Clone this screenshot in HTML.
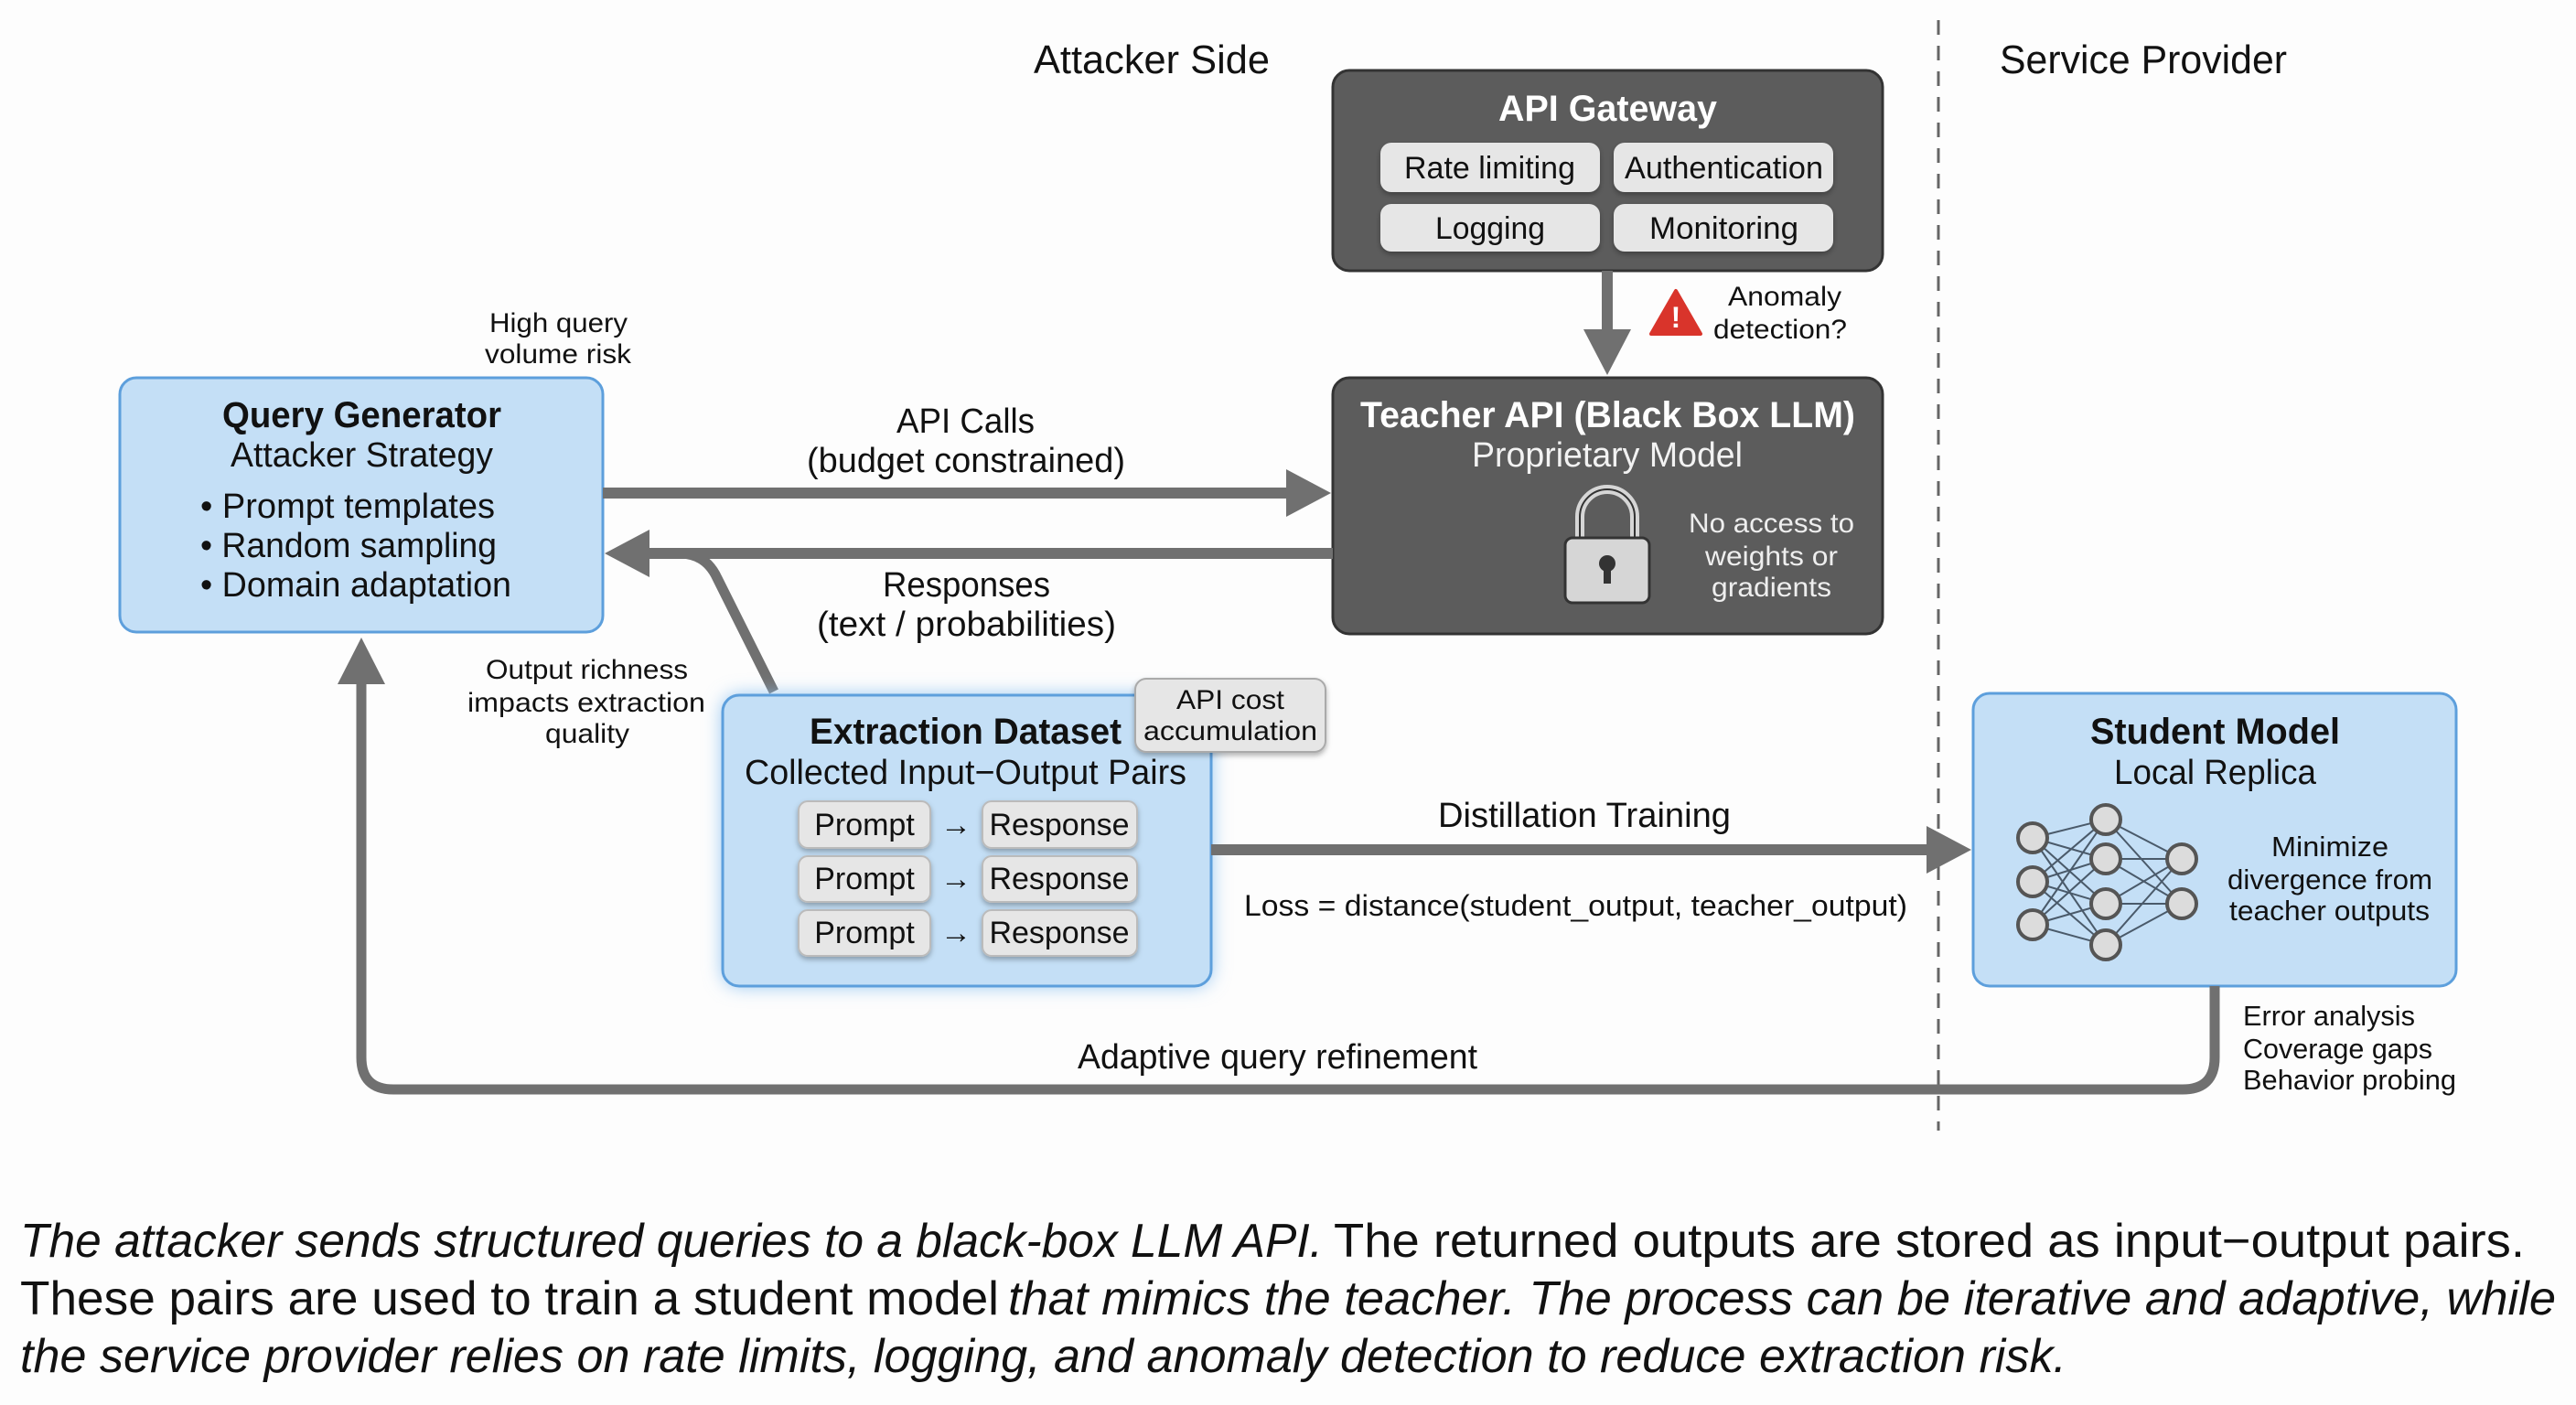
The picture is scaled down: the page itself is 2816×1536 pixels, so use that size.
<!DOCTYPE html>
<html><head><meta charset="utf-8"><style>
html,body{margin:0;padding:0;background:#fdfdfd;}
svg{display:block;}
text{font-family:"Liberation Sans",sans-serif;}
</style></head><body>
<svg width="2816" height="1536" viewBox="0 0 2816 1536" xmlns="http://www.w3.org/2000/svg">
<defs>
<filter id="glow" x="-20%" y="-20%" width="140%" height="140%"><feGaussianBlur stdDeviation="10"/></filter>
<filter id="sh" x="-10%" y="-10%" width="120%" height="130%"><feDropShadow dx="0" dy="3" stdDeviation="3" flood-color="#000" flood-opacity="0.3"/></filter>
</defs>
<rect width="2816" height="1536" fill="#fdfdfd"/>

<!-- headers -->
<text x="1130" y="80" font-size="44" fill="#111" textLength="258" lengthAdjust="spacingAndGlyphs">Attacker Side</text>
<text x="2186" y="80" font-size="44" fill="#111" textLength="314" lengthAdjust="spacingAndGlyphs">Service Provider</text>
<line x1="2119" y1="22" x2="2119" y2="1236" stroke="#666" stroke-width="3" stroke-dasharray="16,12"/>

<!-- API Gateway -->
<rect x="1457" y="77" width="601" height="219" rx="18" fill="#5c5c5c" stroke="#333" stroke-width="3"/>
<text x="1638" y="132" font-size="40" font-weight="bold" fill="#fff" textLength="239" lengthAdjust="spacingAndGlyphs">API Gateway</text>
<g filter="url(#sh)">
<rect x="1509" y="156" width="240" height="54" rx="12" fill="#e6e6e6"/>
<rect x="1764" y="156" width="240" height="54" rx="12" fill="#e6e6e6"/>
<rect x="1509" y="223" width="240" height="52" rx="12" fill="#e6e6e6"/>
<rect x="1764" y="223" width="240" height="52" rx="12" fill="#e6e6e6"/>
</g>
<text x="1535" y="195" font-size="34" fill="#111" textLength="187" lengthAdjust="spacingAndGlyphs">Rate limiting</text>
<text x="1776" y="195" font-size="34" fill="#111" textLength="217" lengthAdjust="spacingAndGlyphs">Authentication</text>
<text x="1569" y="261" font-size="34" fill="#111" textLength="120" lengthAdjust="spacingAndGlyphs">Logging</text>
<text x="1803" y="261" font-size="34" fill="#111" textLength="163" lengthAdjust="spacingAndGlyphs">Monitoring</text>

<!-- gateway arrow -->
<line x1="1757" y1="296" x2="1757" y2="362" stroke="#707070" stroke-width="12"/>
<polygon points="1731,360 1783,360 1757,410" fill="#707070"/>
<polygon points="1832,318 1859,365 1805,365" fill="#d9342b" stroke="#d9342b" stroke-width="4" stroke-linejoin="round"/>
<text x="1832" y="358" font-size="32" font-weight="bold" fill="#fff" text-anchor="middle">!</text>
<text x="1889" y="334" font-size="30" fill="#111" textLength="124" lengthAdjust="spacingAndGlyphs">Anomaly</text>
<text x="1873" y="370" font-size="30" fill="#111" textLength="146" lengthAdjust="spacingAndGlyphs">detection?</text>

<!-- Teacher -->
<rect x="1457" y="413" width="601" height="280" rx="18" fill="#5c5c5c" stroke="#333" stroke-width="3"/>
<text x="1487" y="467" font-size="40" font-weight="bold" fill="#fff" textLength="541" lengthAdjust="spacingAndGlyphs">Teacher API (Black Box LLM)</text>
<text x="1609" y="510" font-size="38" fill="#f2f2f2" textLength="296" lengthAdjust="spacingAndGlyphs">Proprietary Model</text>
<path d="M1727,590 L1727,565 A30,30 0 0 1 1787,565 L1787,590" fill="none" stroke="#d6d6d6" stroke-width="10"/>
<path d="M1727,590 L1727,565 A30,30 0 0 1 1787,565 L1787,590" fill="none" stroke="#333" stroke-width="2"/>
<rect x="1711" y="588" width="92" height="71" rx="8" fill="#d6d6d6" stroke="#333" stroke-width="3"/>
<circle cx="1757" cy="616" r="9" fill="#333"/>
<rect x="1753" y="616" width="8" height="22" fill="#333"/>
<text x="1846" y="582" font-size="30" fill="#eee" textLength="181" lengthAdjust="spacingAndGlyphs">No access to</text>
<text x="1864" y="618" font-size="30" fill="#eee" textLength="145" lengthAdjust="spacingAndGlyphs">weights or</text>
<text x="1871" y="652" font-size="30" fill="#eee" textLength="131" lengthAdjust="spacingAndGlyphs">gradients</text>

<!-- Query Generator -->
<rect x="131" y="413" width="528" height="278" rx="18" fill="#c4dff6" stroke="#5d9fdc" stroke-width="3"/>
<text x="243" y="467" font-size="40" font-weight="bold" fill="#111" textLength="305" lengthAdjust="spacingAndGlyphs">Query Generator</text>
<text x="252" y="510" font-size="38" fill="#111" textLength="287" lengthAdjust="spacingAndGlyphs">Attacker Strategy</text>
<text x="219" y="566" font-size="38" fill="#111" textLength="322" lengthAdjust="spacingAndGlyphs">• Prompt templates</text>
<text x="219" y="609" font-size="38" fill="#111" textLength="324" lengthAdjust="spacingAndGlyphs">• Random sampling</text>
<text x="219" y="652" font-size="38" fill="#111" textLength="340" lengthAdjust="spacingAndGlyphs">• Domain adaptation</text>
<text x="535" y="363" font-size="30" fill="#111" textLength="151" lengthAdjust="spacingAndGlyphs">High query</text>
<text x="530" y="397" font-size="30" fill="#111" textLength="160" lengthAdjust="spacingAndGlyphs">volume risk</text>

<!-- API calls -->
<line x1="659" y1="539" x2="1410" y2="539" stroke="#707070" stroke-width="12"/>
<polygon points="1406,513 1455,539 1406,565" fill="#707070"/>
<text x="980" y="473" font-size="38" fill="#111" textLength="151" lengthAdjust="spacingAndGlyphs">API Calls</text>
<text x="882" y="516" font-size="38" fill="#111" textLength="348" lengthAdjust="spacingAndGlyphs">(budget constrained)</text>

<!-- Responses -->
<line x1="1457" y1="605" x2="705" y2="605" stroke="#707070" stroke-width="12"/>
<polygon points="710,579 661,605 710,631" fill="#707070"/>
<path d="M846,756 L784,632 Q772,606 745,605" fill="none" stroke="#707070" stroke-width="11"/>
<text x="965" y="652" font-size="38" fill="#111" textLength="183" lengthAdjust="spacingAndGlyphs">Responses</text>
<text x="893" y="695" font-size="38" fill="#111" textLength="327" lengthAdjust="spacingAndGlyphs">(text / probabilities)</text>
<text x="531" y="742" font-size="30" fill="#111" textLength="221" lengthAdjust="spacingAndGlyphs">Output richness</text>
<text x="511" y="778" font-size="30" fill="#111" textLength="260" lengthAdjust="spacingAndGlyphs">impacts extraction</text>
<text x="596" y="812" font-size="30" fill="#111" textLength="92" lengthAdjust="spacingAndGlyphs">quality</text>

<!-- Extraction Dataset -->
<rect x="790" y="760" width="534" height="318" rx="18" fill="#8fc2f0" filter="url(#glow)"/>
<rect x="790" y="760" width="534" height="318" rx="18" fill="#c4dff6" stroke="#5d9fdc" stroke-width="3"/>
<text x="885" y="813" font-size="40" font-weight="bold" fill="#111" textLength="341" lengthAdjust="spacingAndGlyphs">Extraction Dataset</text>
<text x="814" y="857" font-size="38" fill="#111" textLength="483" lengthAdjust="spacingAndGlyphs">Collected Input−Output Pairs</text>
<g filter="url(#sh)">
<rect x="873" y="876" width="144" height="51" rx="10" fill="#e6e6e6" stroke="#bbb" stroke-width="2"/>
<rect x="1074" y="876" width="169" height="51" rx="10" fill="#e6e6e6" stroke="#bbb" stroke-width="2"/>
<rect x="873" y="936" width="144" height="50" rx="10" fill="#e6e6e6" stroke="#bbb" stroke-width="2"/>
<rect x="1074" y="936" width="169" height="50" rx="10" fill="#e6e6e6" stroke="#bbb" stroke-width="2"/>
<rect x="873" y="995" width="144" height="50" rx="10" fill="#e6e6e6" stroke="#bbb" stroke-width="2"/>
<rect x="1074" y="995" width="169" height="50" rx="10" fill="#e6e6e6" stroke="#bbb" stroke-width="2"/>
</g>
<g font-size="34" fill="#111">
<text x="945" y="913" text-anchor="middle">Prompt</text><text x="1158" y="913" text-anchor="middle">Response</text>
<text x="945" y="972" text-anchor="middle">Prompt</text><text x="1158" y="972" text-anchor="middle">Response</text>
<text x="945" y="1031" text-anchor="middle">Prompt</text><text x="1158" y="1031" text-anchor="middle">Response</text>
<text x="1045" y="913" text-anchor="middle">→</text><text x="1045" y="972" text-anchor="middle">→</text><text x="1045" y="1031" text-anchor="middle">→</text>
</g>
<rect x="1241" y="742" width="208" height="80" rx="12" fill="#e6e6e6" stroke="#aaa" stroke-width="2" filter="url(#sh)"/>
<text x="1286" y="775" font-size="30" fill="#111" textLength="118" lengthAdjust="spacingAndGlyphs">API cost</text>
<text x="1250" y="809" font-size="30" fill="#111" textLength="190" lengthAdjust="spacingAndGlyphs">accumulation</text>

<!-- Distillation -->
<line x1="1324" y1="929" x2="2110" y2="929" stroke="#707070" stroke-width="12"/>
<polygon points="2106,903 2155,929 2106,955" fill="#707070"/>
<text x="1572" y="904" font-size="38" fill="#111" textLength="320" lengthAdjust="spacingAndGlyphs">Distillation Training</text>
<text x="1360" y="1001" font-size="32" fill="#111" textLength="725" lengthAdjust="spacingAndGlyphs">Loss = distance(student_output, teacher_output)</text>

<!-- Student -->
<rect x="2157" y="758" width="528" height="320" rx="18" fill="#c4dff6" stroke="#5d9fdc" stroke-width="3"/>
<text x="2285" y="813" font-size="40" font-weight="bold" fill="#111" textLength="273" lengthAdjust="spacingAndGlyphs">Student Model</text>
<text x="2311" y="857" font-size="38" fill="#111" textLength="221" lengthAdjust="spacingAndGlyphs">Local Replica</text>
<g stroke="#4a5a6a" stroke-width="2">
<line x1="2222" y1="916" x2="2302" y2="896"/><line x1="2222" y1="916" x2="2302" y2="939"/><line x1="2222" y1="916" x2="2302" y2="988"/><line x1="2222" y1="916" x2="2302" y2="1033"/>
<line x1="2222" y1="964" x2="2302" y2="896"/><line x1="2222" y1="964" x2="2302" y2="939"/><line x1="2222" y1="964" x2="2302" y2="988"/><line x1="2222" y1="964" x2="2302" y2="1033"/>
<line x1="2222" y1="1011" x2="2302" y2="896"/><line x1="2222" y1="1011" x2="2302" y2="939"/><line x1="2222" y1="1011" x2="2302" y2="988"/><line x1="2222" y1="1011" x2="2302" y2="1033"/>
<line x1="2302" y1="896" x2="2385" y2="939"/><line x1="2302" y1="896" x2="2385" y2="988"/>
<line x1="2302" y1="939" x2="2385" y2="939"/><line x1="2302" y1="939" x2="2385" y2="988"/>
<line x1="2302" y1="988" x2="2385" y2="939"/><line x1="2302" y1="988" x2="2385" y2="988"/>
<line x1="2302" y1="1033" x2="2385" y2="939"/><line x1="2302" y1="1033" x2="2385" y2="988"/>
</g>
<g fill="#dcdcdc" stroke="#555" stroke-width="4">
<circle cx="2222" cy="916" r="16"/><circle cx="2222" cy="964" r="16"/><circle cx="2222" cy="1011" r="16"/>
<circle cx="2302" cy="896" r="16"/><circle cx="2302" cy="939" r="16"/><circle cx="2302" cy="988" r="16"/><circle cx="2302" cy="1033" r="16"/>
<circle cx="2385" cy="939" r="16"/><circle cx="2385" cy="988" r="16"/>
</g>
<text x="2483" y="936" font-size="31" fill="#111" textLength="128" lengthAdjust="spacingAndGlyphs">Minimize</text>
<text x="2435" y="972" font-size="31" fill="#111" textLength="224" lengthAdjust="spacingAndGlyphs">divergence from</text>
<text x="2437" y="1006" font-size="31" fill="#111" textLength="219" lengthAdjust="spacingAndGlyphs">teacher outputs</text>

<!-- feedback loop -->
<path d="M2421,1078 L2421,1156 Q2421,1191 2386,1191 L430,1191 Q395,1191 395,1156 L395,745" fill="none" stroke="#707070" stroke-width="11"/>
<polygon points="369,748 421,748 395,697" fill="#707070"/>
<text x="1178" y="1168" font-size="38" fill="#111" textLength="437" lengthAdjust="spacingAndGlyphs">Adaptive query refinement</text>
<text x="2452" y="1121" font-size="31" fill="#111" textLength="188" lengthAdjust="spacingAndGlyphs">Error analysis</text>
<text x="2452" y="1157" font-size="31" fill="#111" textLength="207" lengthAdjust="spacingAndGlyphs">Coverage gaps</text>
<text x="2452" y="1191" font-size="31" fill="#111" textLength="233" lengthAdjust="spacingAndGlyphs">Behavior probing</text>

<!-- caption -->
<g font-size="52" fill="#111">
<text x="22" y="1374" font-style="italic" textLength="1424" lengthAdjust="spacingAndGlyphs">The attacker sends structured queries to a black-box LLM API.</text>
<text x="1458" y="1374" textLength="1302" lengthAdjust="spacingAndGlyphs">The returned outputs are stored as input−output pairs.</text>
<text x="22" y="1437" textLength="1070" lengthAdjust="spacingAndGlyphs">These pairs are used to train a student model</text>
<text x="1102" y="1437" font-style="italic" textLength="1692" lengthAdjust="spacingAndGlyphs">that mimics the teacher. The process can be iterative and adaptive, while</text>
<text x="22" y="1500" font-style="italic" textLength="2237" lengthAdjust="spacingAndGlyphs">the service provider relies on rate limits, logging, and anomaly detection to reduce extraction risk.</text>
</g>
</svg>
</body></html>
